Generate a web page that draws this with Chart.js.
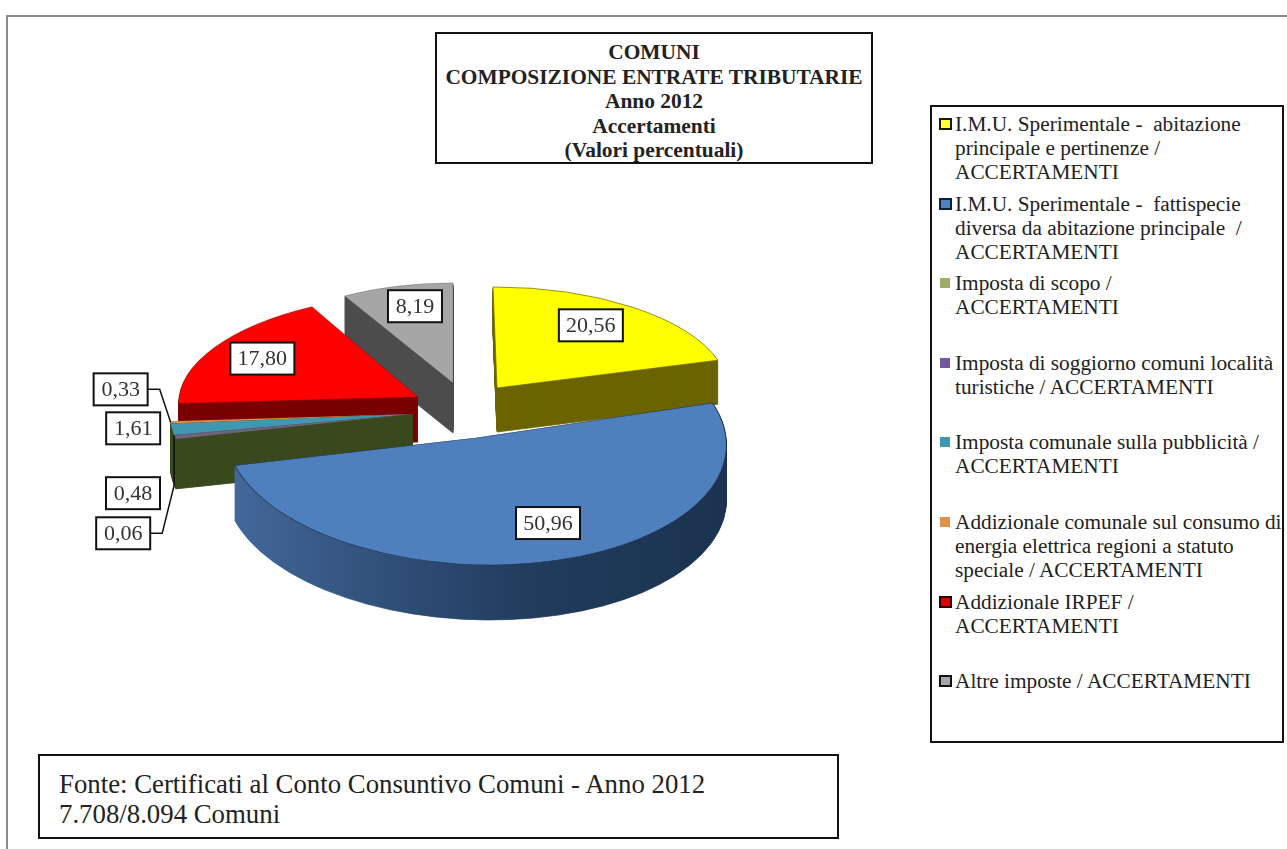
<!DOCTYPE html>
<html lang="it">
<head>
<meta charset="utf-8">
<title>Comuni - Composizione entrate tributarie 2012</title>
<script src="https://cdn.jsdelivr.net/npm/chart.js@4"></script>
<style>
    html, body { margin: 0; padding: 0; background: #fff; }
    body { position: relative; width: 1287px; height: 849px; overflow: hidden; font-family: "Liberation Serif", serif; color: #222; }
    #frame { position: absolute; left: 6px; top: 15px; right: 0; bottom: 0; border-left: 2px solid #8c8c8c; border-top: 2px solid #8c8c8c; }
    #pie { position: absolute; left: 0; top: 0; }
    .box { position: absolute; box-sizing: border-box; background: #fff; border: 2px solid #111; }
    #title { left: 435px; top: 32px; width: 438px; height: 132px; padding-top: 6px; text-align: center; font-weight: bold; font-size: 21.4px; line-height: 24.5px; white-space: nowrap; }
    #source { left: 38px; top: 754px; width: 801px; height: 85px; padding: 13px 0 0 19px; font-size: 26.8px; line-height: 30px; white-space: pre; }
    #legend { left: 930px; top: 105px; width: 354px; height: 638px; padding-top: 5px; }
    .item { position: relative; height: 79.6px; padding-left: 23px; font-size: 21.3px; line-height: 24px; white-space: pre; }
    .swatch { position: absolute; left: 8px; top: 7px; width: 10px; height: 10px; box-sizing: border-box; }
    .swatch.edged { left: 7px; top: 6px; width: 13px; height: 12px; }
</style>
</head>
<body>
<div id="frame"></div>
<canvas id="pie" width="900" height="800"></canvas>
<div id="title" class="box">COMUNI<br>COMPOSIZIONE ENTRATE TRIBUTARIE<br>Anno 2012<br>Accertamenti<br>(Valori percentuali)</div>
<div id="legend" class="box"></div>
<div id="source" class="box">Fonte: Certificati al Conto Consuntivo Comuni - Anno 2012
7.708/8.094 Comuni</div>

<script>
const categories = [
    "I.M.U. Sperimentale -  abitazione\nprincipale e pertinenze /\nACCERTAMENTI",
    "I.M.U. Sperimentale -  fattispecie\ndiversa da abitazione principale  /\nACCERTAMENTI",
    "Imposta di scopo /\nACCERTAMENTI",
    "Imposta di soggiorno comuni località\nturistiche / ACCERTAMENTI",
    "Imposta comunale sulla pubblicità /\nACCERTAMENTI",
    "Addizionale comunale sul consumo di\nenergia elettrica regioni a statuto\nspeciale / ACCERTAMENTI",
    "Addizionale IRPEF /\nACCERTAMENTI",
    "Altre imposte / ACCERTAMENTI"
];
const values = [20.56, 50.96, 0.48, 0.06, 1.61, 0.33, 17.80, 8.19];

const topColors = ['#ffff00', '#4f7fbc', '#6e6480', '#7b5fa0', '#3f97b2', '#e08b3c', '#ff0000', '#a6a6a6'];
const wallColors = ['#6b6400', '#1f3553', '#3a4a1e', '#3a4a1e', '#3a4a1e', '#3a4a1e', '#7a0000', '#4d4d4d'];
const legendColors = ['#ffff33', '#4f81bd', '#9bab68', '#7358a0', '#3f97b2', '#e0924a', '#e00000', '#a6a6a6'];
const legendBorders = ['#1a1a00', '#0c2238', null, null, null, null, '#300000', '#111111'];

// every slice is pulled away from the centre and flattened on its own, nearer ones come out larger
const shiftX = [47, 26, -37, -37, -37, -37, -32, 3];
const shiftY = [-12, 38, 14, 14, 14, 14, -3, -17];
const stretchX = [0.9625, 1.042, 1.0125, 1.0125, 1.0125, 1.0125, 0.995, 0.917];
const stretchY = [0.421, 0.529, 0.479, 0.479, 0.479, 0.479, 0.432, 0.417];
const leanX = [0.0167, 0.058, 0, 0, 0, 0, -0.055, 0];
const depths = [44, 55, 50, 50, 50, 50, 45, 50];

// far slices first so the blue one ends up over everything
const drawOrder = [7, 6, 5, 4, 3, 2, 0, 1];

// value boxes, placed relative to the middle of each slice's rim
const labelOffsetX = [-42, -3, -42, -51, -39, -50, 48, 18];
const labelOffsetY = [18, -38, 56, 98, -1, -33, 11, 20];
const leaderSlices = [3, 5];

const formatValue = v => v.toFixed(2).replace('.', ',');

function placeSlice(ctx, arc, i, lift) {
    ctx.translate(arc.x + shiftX[i], arc.y + shiftY[i] + lift);
    ctx.transform(stretchX[i], 0, leanX[i], stretchY[i], 0, 0);
    ctx.translate(-arc.x, -arc.y);
}

function rimPoint(arc, i) {
    const mid = (arc.startAngle + arc.endAngle) / 2;
    const ux = Math.cos(mid) * arc.outerRadius;
    const uy = Math.sin(mid) * arc.outerRadius;
    return {
        x: arc.x + shiftX[i] + ux * stretchX[i] + uy * leanX[i],
        y: arc.y + shiftY[i] + uy * stretchY[i]
    };
}

function wallFill(ctx, arc, i) {
    if (i !== 1) return wallColors[i];
    // the long front wall of the blue slice gets darker to the right
    const left = arc.x + shiftX[i] - arc.outerRadius * stretchX[i];
    const right = arc.x + shiftX[i] + arc.outerRadius * stretchX[i];
    const grad = ctx.createLinearGradient(left, 0, right, 0);
    grad.addColorStop(0, '#44699c');
    grad.addColorStop(0.35, '#2f4d76');
    grad.addColorStop(0.6, '#223c5e');
    grad.addColorStop(1, '#1b3350');
    return grad;
}

function drawWall(ctx, arc, i) {
    const fill = wallFill(ctx, arc, i);
    ctx.fillStyle = fill;
    // the thin stroke keeps narrow wedges solid right up to their tip
    ctx.strokeStyle = fill;
    ctx.lineWidth = 0.8;
    for (let lift = depths[i]; lift > 0; lift--) {
        ctx.save();
        placeSlice(ctx, arc, i, lift);
        ctx.beginPath();
        ctx.moveTo(arc.x, arc.y);
        ctx.arc(arc.x, arc.y, arc.outerRadius, arc.startAngle, arc.endAngle);
        ctx.closePath();
        ctx.restore();
        ctx.fill();
        ctx.stroke();
    }
}

function drawLeader(ctx, arc, i) {
    const rim = rimPoint(arc, i);
    const y = rim.y + labelOffsetY[i];
    const boxRight = rim.x + labelOffsetX[i] + 27;
    ctx.strokeStyle = '#111';
    ctx.lineWidth = 1.5;
    ctx.beginPath();
    ctx.moveTo(boxRight, y);
    ctx.lineTo(boxRight + 12, y);
    if (y > rim.y + depths[i]) ctx.lineTo(rim.x, rim.y + depths[i]);
    ctx.lineTo(rim.x, rim.y);
    ctx.stroke();
}

function drawValueBox(ctx, arc, i) {
    const rim = rimPoint(arc, i);
    const text = formatValue(values[i]);
    const x = rim.x + labelOffsetX[i];
    const y = rim.y + labelOffsetY[i];
    const w = values[i] >= 10 ? 64 : 54;
    const h = 32;
    ctx.fillStyle = '#fff';
    ctx.strokeStyle = '#111';
    ctx.lineWidth = 2;
    ctx.fillRect(x - w / 2, y - h / 2, w, h);
    ctx.strokeRect(x - w / 2, y - h / 2, w, h);
    ctx.fillStyle = '#333';
    ctx.font = '22px "Liberation Serif"';
    ctx.textAlign = 'center';
    ctx.textBaseline = 'middle';
    ctx.fillText(text, x, y + 1);
}

// replaces the default dataset drawing with the extruded version
const tiltedPie = {
    id: 'tiltedPie',
    beforeDatasetsDraw(chart) {
        const ctx = chart.ctx;
        const arcs = chart.getDatasetMeta(0).data;
        drawOrder.forEach(i => {
            drawWall(ctx, arcs[i], i);
            ctx.save();
            placeSlice(ctx, arcs[i], i, 0);
            arcs[i].draw(ctx);
            ctx.restore();
        });
        leaderSlices.forEach(i => drawLeader(ctx, arcs[i], i));
        drawOrder.forEach(i => drawValueBox(ctx, arcs[i], i));
        return false;
    }
};

new Chart(document.getElementById('pie'), {
    type: 'pie',
    data: {
        labels: categories,
        datasets: [{
            data: values,
            backgroundColor: topColors,
            borderColor: wallColors,
            borderWidth: [1, 1, 0, 0, 0, 0, 0.5, 0.5]
        }]
    },
    options: {
        responsive: false,
        animation: false,
        radius: 240,
        plugins: {
            legend: { display: false },
            tooltip: { enabled: false }
        }
    },
    plugins: [tiltedPie]
});

// side legend, one fixed-height row per category
const legend = document.getElementById('legend');
categories.forEach((name, i) => {
    const item = document.createElement('div');
    item.className = 'item';
    item.textContent = name;
    const swatch = document.createElement('span');
    swatch.className = 'swatch';
    swatch.style.background = legendColors[i];
    if (legendBorders[i]) {
        swatch.classList.add('edged');
        swatch.style.border = '2px solid ' + legendBorders[i];
    }
    item.appendChild(swatch);
    legend.appendChild(item);
});
</script>
</body>
</html>
